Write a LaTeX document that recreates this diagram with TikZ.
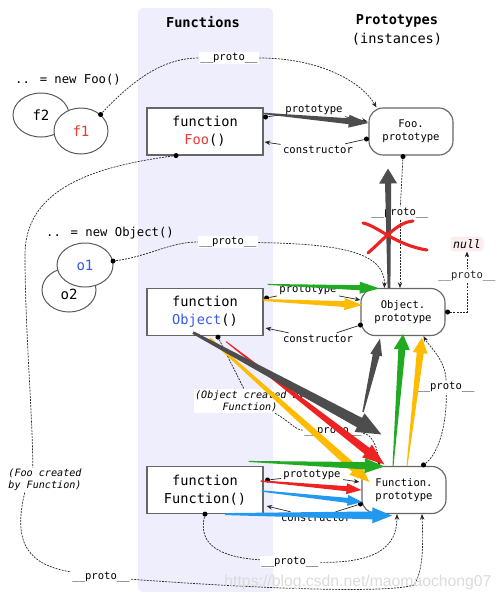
\documentclass[tikz,border=0pt]{standalone}
\usepackage{fontspec}
\setmainfont{DejaVu Sans Mono}
\newfontfamily\wmfont{Liberation Sans}
\usepackage{tikz}
\usetikzlibrary{shapes.geometric, arrows.meta, positioning, calc}

\definecolor{fnbg}{RGB}{238,238,252}
\definecolor{nullbg}{RGB}{252,238,238}
\definecolor{arrgray}{RGB}{77,77,77}
\definecolor{arrgreen}{RGB}{34,170,34}
\definecolor{arryellow}{RGB}{255,187,0}
\definecolor{arrred}{RGB}{238,34,34}
\definecolor{arrblue}{RGB}{34,153,238}
\definecolor{txtred}{RGB}{232,56,48}
\definecolor{txtblue}{RGB}{50,90,230}

\newcommand{\protolbl}{\_\_proto\_\_}
% tapered arrow: colour, from, to, start half width, end half width, head length, head half width
\newcommand{\fatarrow}[7]{%
  \coordinate (fatA) at (#2);
  \coordinate (fatB) at (#3);
  \coordinate (fatH) at ($(fatB)!#6!(fatA)$);
  \fill[#1] ($(fatA)!#4!90:(fatB)$) -- ($(fatH)!#5!90:(fatB)$) -- ($(fatH)!#7!90:(fatB)$) -- (fatB)
    -- ($(fatH)!#7!-90:(fatB)$) -- ($(fatH)!#5!-90:(fatB)$) -- ($(fatA)!#4!-90:(fatB)$) -- cycle;}

\begin{document}
\begin{tikzpicture}[
    x=0.025cm, y=-0.025cm,
    fnbox/.style={rectangle, draw=black!60, line width=0.8pt, fill=white, minimum width=2.9cm, minimum height=1.175cm, align=center, font=\fontsize{9.7}{12.8}\selectfont},
    protobox/.style={rectangle, rounded corners=10pt, draw=black!60, line width=0.8pt, fill=white, minimum width=2.1cm, minimum height=1.175cm, align=center, font=\fontsize{7.5}{9.4}\selectfont},
    inst/.style={ellipse, draw=black!65, line width=0.7pt, fill=white, minimum width=1.4cm, minimum height=1.1cm, font=\fontsize{10}{12}\selectfont},
    dot/.style={circle, fill=black, inner sep=0pt, minimum size=3.6pt},
    lbl/.style={font=\fontsize{7.5}{9}\selectfont, inner sep=1.5pt},
    plbl/.style={lbl, fill=white, inner sep=1pt},
    note/.style={font=\itshape\fontsize{7.2}{8.6}\selectfont, fill=white, inner sep=1pt},
    link/.style={-{Stealth[length=4pt,width=3.2pt]}, line width=0.5pt, black!85},
    plink/.style={line width=0.5pt, black!85},
    pline/.style={line width=0.5pt, dash pattern=on 1.4pt off 0.8pt, black!85},
    parrow/.style={pline, -{Stealth[length=4pt,width=3.2pt]}},
    xmark/.style={draw=arrred, line width=2.2pt, line cap=round}
]
\useasboundingbox (0,0) rectangle (502,600);

% Functions column
\fill[fnbg, rounded corners=3pt] (138,8) rectangle (273,592);
\node[font=\bfseries\fontsize{9.7}{12}\selectfont] (funhead) at (203,22) {Functions};
\node[align=center, font=\fontsize{9.7}{13.5}\selectfont] (protohead) at (397,30) {\textbf{Prototypes}\\(instances)};

% Instances (left side)
\node[font=\fontsize{8.7}{10}\selectfont] (newfoo) at (68,80) {.. = new Foo()};
\node[inst] (f2) at (41,115) {f2};
\node[inst, minimum width=1.35cm, minimum height=1.15cm] (f1) at (81,131) {\textcolor{txtred}{f1}};
\node[font=\fontsize{8.7}{10}\selectfont] (newobj) at (110,233) {.. = new Object()};
\node[inst, minimum width=1.35cm, text height=7pt, text depth=2pt] (o2) at (69,290) {\raisebox{-4pt}{o2}};
\node[inst] (o1) at (85,265) {\textcolor{txtblue}{o1}};

% Functions
\node[fnbox] (foobox) at (205,131.5) {function\\\textcolor{txtred}{Foo}()};
\node[fnbox] (objbox) at (205,312) {function\\\textcolor{txtblue}{Object}()};
\node[fnbox] (funcbox) at (205,490) {function\\Function()};

% Prototypes (right side)
\node[protobox] (fooproto) at (411,131.5) {Foo.\\prototype};
\node[protobox] (objproto) at (403,312) {Object.\\prototype};
\node[protobox] (fnproto) at (404,490) {Function.\\prototype};
\node[font=\itshape\fontsize{8.2}{10}\selectfont, fill=nullbg, rounded corners=2pt, inner sep=2pt] (null) at (467,244) {null};

% Dots
\node[dot] (f1d) at (f1.40) {};
\node[dot] (o1d) at (o1.8) {};
\node[dot] (fooPd) at ($(foobox.east)+(2,-14.5)$) {};
\node[dot] (fooCd) at ($(fooproto.west)+(-2,7.5)$) {};
\node[dot] (fpd) at ($(fooproto.south)+(-8,1)$) {};
\node[dot] (fbd) at ($(foobox.south)+(-29,0)$) {};
\node[dot] (objPd) at ($(objbox.east)+(3,-14)$) {};
\node[dot] (objCd) at ($(objproto.west)+(0,13)$) {};
\node[dot] (opd) at ($(objproto.east)+(2,0)$) {};
\node[dot] (obd) at ($(objbox.south)+(13,1)$) {};
\node[dot] (fnPd) at ($(funcbox.east)+(4,-10)$) {};
\node[dot] (fnCd) at ($(fnproto.west)+(-1,14)$) {};
\node[dot] (fnd) at ($(fnproto.north east)+(-23,-1)$) {};
\node[dot] (fnbd) at (funcbox.south) {};

% prototype / constructor links
\node[lbl] (fooPl) at (314,110) {prototype};
\node[lbl] (fooCl) at (318,150) {constructor};
\draw[plink] (fooPd) -- (fooPl);
\draw[link] (fooPl) -- ($(fooproto.west)+(-1,-10)$);
\draw[plink] (fooCd) -- (fooCl);
\draw[link] (fooCl) -- ($(foobox.east)+(1,10.5)$);

\node[lbl] (objPl) at (308,290) {prototype};
\node[lbl] (objCl) at (318,339) {constructor};
\draw[plink] (objPd) -- (objPl);
\draw[link] (objPl) -- ($(objproto.west)+(0,-12)$);
\draw[plink] (objCd) -- (objCl);
\draw[link] (objCl) -- ($(objbox.east)+(2,16)$);

\node[lbl] (fnPl) at (312,475) {prototype};
\node[lbl] (fnCl) at (316,518) {constructor};
\draw[plink] (fnPd) -- (fnPl);
\draw[link] (fnPl) -- ($(fnproto.west)+(-2,-8)$);
\draw[plink] (fnCd) -- (fnCl);
\draw[link] (fnCl) -- ($(funcbox.east)+(3,16)$);

% __proto__ chains
\node[plbl] (pl1) at (229,58) {\protolbl};
\node[plbl] (pl2) at (400,213) {\protolbl};
\node[plbl] (pl3) at (228,242) {\protolbl};
\node[plbl] (pl5) at (333,431) {\protolbl};
\node[plbl] (pl6) at (446,387) {\protolbl};
\node[plbl] (pl7) at (101,577) {\protolbl};
\node[plbl] (pl8) at (290,562) {\protolbl};
\node[note, align=center] (ocreated) at (250,401) {(Object created by\\Function)};
\node[note, align=left] (ofoo) at (45,480) {(Foo created\\by Function)};

\draw[pline] (f1d) .. controls (140,72) and (170,58) .. (pl1);
\draw[parrow] (pl1) .. controls (320,58) and (362,82) .. ($(fooproto.north west)+(8,0)$);

\draw[pline] (fpd) -- (pl2);
\draw[parrow] (pl2) -- ($(objproto.north)+(-3,0)$);

\draw[pline] (o1d) .. controls (150,256) and (170,242) .. (pl3);
\draw[parrow] (pl3) .. controls (340,244) and (385,252) .. ($(objproto.north west)+(24,0)$);

\draw[parrow] (opd) -| node[plbl, pos=0.8] (pl4) {\protolbl} (null);

\draw[pline] (obd) -- (ocreated);
\draw[pline] ($(ocreated.south)+(25,0)$) .. controls (288,420) and (295,430) .. (pl5);
\draw[parrow] (pl5) .. controls (372,434) and (378,448) .. ($(fnproto.north west)+(18,0)$);

\draw[pline] (fnd) .. controls (440,452) and (447,420) .. (pl6);
\draw[parrow] (pl6) .. controls (446,360) and (428,345) .. ($(objproto.south east)+(-22,0)$);

\draw[pline] (fbd) .. controls (80,168) and (25,195) .. (25,255) .. controls (25,330) and (33,420) .. ($(ofoo.north west)+(26,0)$);
\draw[pline] ($(ofoo.south west)+(18,0)$) .. controls (12,545) and (30,565) .. (pl7);
\draw[parrow] (pl7) .. controls (250,588) and (385,594) .. (414,585) .. controls (424,570) and (423,540) .. ($(fnproto.south)+(18,0)$);

\draw[pline] (fnbd) .. controls (198,545) and (220,557) .. (pl8);
\draw[parrow] (pl8) .. controls (375,563) and (397,548) .. ($(fnproto.south)+(-7,0)$);

% Thick arrows
\fatarrow{arrgray}{$(foobox.north east)+(0,6)$}{$(fooproto.west)+(0,-8.5)$}{0.5pt}{2.1pt}{14pt}{4.6pt}
\fatarrow{arrgray}{$(objproto.north)+(-14,0)$}{$(fooproto.south)+(-23,13)$}{1pt}{2.2pt}{10.6pt}{6.4pt}
\fatarrow{arrgreen}{$(objbox.north east)+(4,-3.5)$}{$(objproto.north west)+(19,0.5)$}{0.35pt}{1.8pt}{14pt}{4.3pt}
\fatarrow{arryellow}{$(objbox.east)+(0,-12)$}{$(objproto.west)+(2,-7)$}{0.7pt}{2.1pt}{12.8pt}{4.3pt}
\fatarrow{arryellow}{$(objbox.south)+(5,2.5)$}{$(fnproto.west)+(8,-8)$}{0.7pt}{2.8pt}{14pt}{5.7pt}
\fatarrow{arrred}{$(objbox.south)+(21,5.5)$}{$(fnproto.north west)+(23,-1.5)$}{0.35pt}{2.8pt}{15.6pt}{5.7pt}
\fatarrow{arrgray}{$(objbox.south)+(-12,-3.5)$}{$(fnproto.north west)+(20,-31.5)$}{1pt}{3.8pt}{17.7pt}{7.5pt}
\fatarrow{arrgray}{$(objproto.south)+(-40,76)$}{$(objproto.south)+(-23,2.5)$}{0.5pt}{2.5pt}{12pt}{4.3pt}
\fatarrow{arrgreen}{$(fnproto.north)+(-11,0)$}{$(objproto.south)+(0,-2)$}{0.35pt}{2.5pt}{11pt}{5.7pt}
\fatarrow{arryellow}{$(fnproto.north)+(3,0)$}{$(objproto.south)+(19,1.5)$}{0.35pt}{2.5pt}{11pt}{5.3pt}
\fatarrow{arrgreen}{$(funcbox.north east)+(-15,-4.5)$}{$(fnproto.north west)+(23,0.5)$}{0.35pt}{2.6pt}{14pt}{5.3pt}
\fatarrow{arrred}{$(funcbox.east)+(-3,-9)$}{fnproto.west}{0.5pt}{1.8pt}{10.6pt}{3.9pt}
\fatarrow{arrblue}{$(funcbox.east)+(-2,1)$}{$(fnproto.west)+(1,12)$}{0.5pt}{1.8pt}{10.6pt}{3.9pt}
\fatarrow{arrblue}{$(funcbox.south)+(20,0)$}{$(fnproto.south)+(-12,1.5)$}{0.7pt}{2.8pt}{14pt}{5.7pt}

% Crossed out link
\draw[xmark] (363,223) .. controls (378,226) and (395,245) .. (427,250);
\draw[xmark] (368,253) .. controls (385,238) and (398,222) .. (413,221);

% Watermark
\node[font=\wmfont\fontsize{11.2}{12}\selectfont, text=black!14] (wmark) at (358,582) {https://blog.csdn.net/maomaochong07};

\end{tikzpicture}
\end{document}
